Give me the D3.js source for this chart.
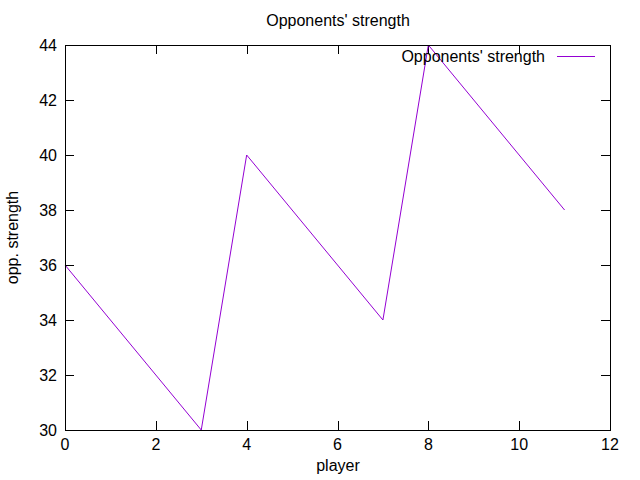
<!DOCTYPE html>
<html>
<head>
<meta charset="utf-8">
<script src="https://cdn.jsdelivr.net/npm/d3@7"></script>
<style>
body { margin: 0; background: #fff; }
text { font-family: "Liberation Sans", Arial, sans-serif; fill: #000; }
</style>
</head>
<body>
<div id="chart"></div>
<script>
// data
let players = [0, 1, 2, 3, 4, 5, 6, 7, 8, 9, 10, 11];
let strength = [36, 34, 32, 30, 40, 38, 36, 34, 44, 42, 40, 38];
let x_ticks = [0, 2, 4, 6, 8, 10, 12];
let y_ticks = [30, 32, 34, 36, 38, 40, 42, 44];

let chart_width = 640, chart_height = 480;
let plot_left = 65, plot_right = 610, plot_top = 45, plot_bottom = 430;
let tick_len = 9;
let line_color = "#9400d3";

let svg = d3.select("#chart").append("svg")
    .attr("width", chart_width)
    .attr("height", chart_height);

let x = d3.scaleLinear().domain([0, 12]).range([plot_left, plot_right]);
let y = d3.scaleLinear().domain([30, 44]).range([plot_bottom, plot_top]);

// ticks, inward and mirrored like gnuplot
let ticks = svg.append("g").attr("stroke", "#000").attr("stroke-width", 1);
x_ticks.forEach(function(t) {
    let px = Math.round(x(t)) + 0.5;
    ticks.append("line").attr("x1", px).attr("x2", px).attr("y1", plot_bottom).attr("y2", plot_bottom - tick_len);
    ticks.append("line").attr("x1", px).attr("x2", px).attr("y1", plot_top).attr("y2", plot_top + tick_len);
});
y_ticks.forEach(function(t) {
    let py = Math.round(y(t)) + 0.5;
    ticks.append("line").attr("x1", plot_left).attr("x2", plot_left + tick_len).attr("y1", py).attr("y2", py);
    ticks.append("line").attr("x1", plot_right).attr("x2", plot_right - tick_len).attr("y1", py).attr("y2", py);
});

svg.selectAll(".xlab")
    .data(x_ticks)
    .enter()
    .append("text")
    .attr("x", d => x(d))
    .attr("y", plot_bottom + 20)
    .attr("text-anchor", "middle")
    .style("font-size", "16px")
    .text(d => d);

svg.selectAll(".ylab")
    .data(y_ticks)
    .enter()
    .append("text")
    .attr("x", plot_left - 8)
    .attr("y", d => y(d) + 6)
    .attr("text-anchor", "end")
    .style("font-size", "16px")
    .text(d => d);

// data line
let line = d3.line()
    .x((d, i) => x(players[i]))
    .y(d => y(d));

svg.append("path")
    .datum(strength)
    .attr("d", line)
    .attr("fill", "none")
    .attr("stroke", line_color)
    .attr("stroke-width", 1);

// border
svg.append("rect")
    .attr("x", plot_left + 0.5)
    .attr("y", plot_top + 0.5)
    .attr("width", plot_right - plot_left)
    .attr("height", plot_bottom - plot_top)
    .attr("fill", "none")
    .attr("stroke", "#000")
    .attr("stroke-width", 1);

// legend
svg.append("text")
    .attr("x", 545)
    .attr("y", 62)
    .attr("text-anchor", "end")
    .style("font-size", "16px")
    .text("Opponents' strength");
svg.append("line")
    .attr("x1", 557).attr("x2", 595)
    .attr("y1", 56.5).attr("y2", 56.5)
    .attr("stroke", line_color)
    .attr("stroke-width", 1);

// titles
svg.append("text")
    .attr("x", 338)
    .attr("y", 26)
    .attr("text-anchor", "middle")
    .style("font-size", "16px")
    .text("Opponents' strength");

svg.append("text")
    .attr("x", 338)
    .attr("y", 471)
    .attr("text-anchor", "middle")
    .style("font-size", "16px")
    .text("player");

svg.append("text")
    .attr("transform", "translate(18," + ((plot_top + plot_bottom) / 2) + ") rotate(-90)")
    .attr("text-anchor", "middle")
    .style("font-size", "16px")
    .text("opp. strength");
</script>
</body>
</html>
